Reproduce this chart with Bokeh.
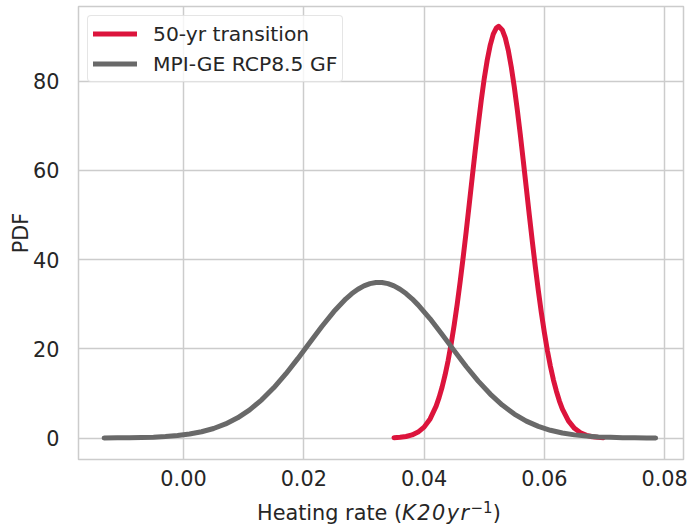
from bokeh.plotting import figure
from bokeh.layouts import column
from bokeh.models import (Legend, LegendItem, FixedTicker, Div,
                          NumeralTickFormatter, Range1d)
from bokeh.embed import file_html
from bokeh.resources import INLINE

# ---- data ----
red_x = [0.035, 0.036, 0.037, 0.038, 0.039, 0.040, 0.041, 0.042, 0.0425, 0.043,
         0.0435, 0.044, 0.0445, 0.045, 0.0455, 0.046, 0.0465, 0.047, 0.0475, 0.048,
         0.0485, 0.049, 0.0495, 0.050, 0.0505, 0.051, 0.0515, 0.052, 0.0524, 0.053,
         0.0535, 0.054, 0.0545, 0.055, 0.0555, 0.056, 0.0565, 0.057, 0.0575, 0.058,
         0.0585, 0.059, 0.0595, 0.060, 0.0605, 0.061, 0.0615, 0.062, 0.0625, 0.063,
         0.064, 0.065, 0.066, 0.067, 0.068, 0.069, 0.0698]
red_y = [0.07, 0.16, 0.34, 0.69, 1.33, 2.44, 4.28, 7.16, 9.11, 11.44,
         14.2, 17.4, 21.12, 25.3, 29.97, 35.1, 40.55, 46.3, 52.33, 58.4,
         64.43, 70.2, 75.67, 80.6, 84.75, 88.1, 90.55, 91.9, 92.3, 91.5,
         89.70, 86.9, 83.16, 78.7, 73.55, 68.0, 62.05, 56.0, 49.92, 44.0,
         38.31, 33.0, 28.05, 23.6, 19.59, 16.1, 13.05, 10.5, 8.29, 6.49,
         3.84, 2.17, 1.17, 0.60, 0.29, 0.14, 0.07]

gray_x = [-0.0132, -0.011, -0.009, -0.007, -0.005, -0.003, -0.001, 0.001, 0.003,
          0.005, 0.007, 0.009, 0.011, 0.013, 0.015, 0.017, 0.019, 0.021, 0.023,
          0.025, 0.027, 0.028, 0.029, 0.030, 0.031, 0.032, 0.033, 0.034, 0.035,
          0.036, 0.037, 0.038, 0.039, 0.041, 0.043,
          0.045, 0.047, 0.049, 0.051, 0.053, 0.055, 0.057, 0.059, 0.061, 0.063,
          0.065, 0.067, 0.069, 0.071, 0.073, 0.075, 0.077, 0.0785]
gray_y = [0.015, 0.032, 0.06, 0.11, 0.19, 0.33, 0.55, 0.89, 1.40,
          2.13, 3.15, 4.53, 6.32, 8.56, 11.25, 14.36, 17.79, 21.40, 25.0,
          28.35, 31.21, 32.38, 33.35, 34.10, 34.61, 34.87, 34.87, 34.61, 34.10,
          33.35, 32.38, 31.21, 29.85, 26.72, 23.22,
          19.59, 16.04, 12.76, 9.85, 7.38, 5.37, 3.79, 2.60, 1.73, 1.12,
          0.70, 0.43, 0.25, 0.15, 0.08, 0.04, 0.02, 0.01]

series_names = ["50-yr transition", "MPI-GE RCP8.5 GF"]
x_ticks = [0.00, 0.02, 0.04, 0.06, 0.08]
y_ticks = [0, 20, 40, 60, 80]

FONT = "DejaVu Sans"
TXT = "#262626"
GRID = "#cccccc"
FS = "20.8px"

p = figure(width=691, height=497, output_backend="svg", toolbar_location=None,
           x_range=Range1d(-0.01746, 0.08313), y_range=Range1d(-4.82, 96.75),
           min_border_left=78, min_border_right=8, min_border_top=6,
           min_border_bottom=38)
p.background_fill_color = "white"
p.border_fill_color = "white"
p.outline_line_color = GRID
p.outline_line_width = 1.5

r1 = p.line(red_x, red_y, line_color="#dc143c", line_width=5,
            line_join="round", line_cap="round")
r2 = p.line(gray_x, gray_y, line_color="#696969", line_width=5,
            line_join="round", line_cap="round")

for ax in (p.xaxis[0], p.yaxis[0]):
    ax.axis_line_color = None
    ax.major_tick_line_color = None
    ax.minor_tick_line_color = None
    ax.major_label_text_font = FONT
    ax.major_label_text_font_size = FS
    ax.major_label_text_color = TXT
    ax.axis_label_text_font = FONT
    ax.axis_label_text_font_size = FS
    ax.axis_label_text_color = TXT
    ax.axis_label_text_font_style = "normal"

p.xaxis.ticker = FixedTicker(ticks=x_ticks)
p.xaxis.formatter = NumeralTickFormatter(format="0.00")
p.xaxis.major_label_standoff = 4
p.xaxis.axis_label = None
p.yaxis.ticker = FixedTicker(ticks=y_ticks)
p.yaxis.major_label_standoff = 13
p.yaxis.axis_label = "PDF"
p.yaxis.axis_label_standoff = -3

p.xgrid.grid_line_color = GRID
p.ygrid.grid_line_color = GRID
p.xgrid.grid_line_width = 1.5
p.ygrid.grid_line_width = 1.5

legend = Legend(items=[LegendItem(label=series_names[0], renderers=[r1]),
                       LegendItem(label=series_names[1], renderers=[r2])],
                location="top_left", margin=9, padding=5, spacing=5,
                glyph_width=44, glyph_height=25, label_height=25,
                label_standoff=16,
                label_text_font=FONT, label_text_font_size="20.3px",
                label_text_color=TXT,
                border_line_color=GRID, border_line_width=1,
                background_fill_color="white", background_fill_alpha=0.8)
if "border_radius" in Legend.properties():
    legend.border_radius = 4
p.add_layout(legend)

xlabel = Div(
    text=('Heating rate (<i style="letter-spacing:1.5px">K20yr</i>'
          '<sup style="font-size:15px;vertical-align:0.45em;line-height:0">'
          '\u22121</sup>)'),
    width=691, height=32,
    styles={"font-family": FONT, "font-size": FS, "color": TXT,
            "line-height": "26px", "padding-left": "257px",
            "padding-top": "3px", "margin": "0", "white-space": "nowrap"})

layout = column(p, xlabel, spacing=0)
open("out.html", "w").write(file_html(layout, INLINE))
